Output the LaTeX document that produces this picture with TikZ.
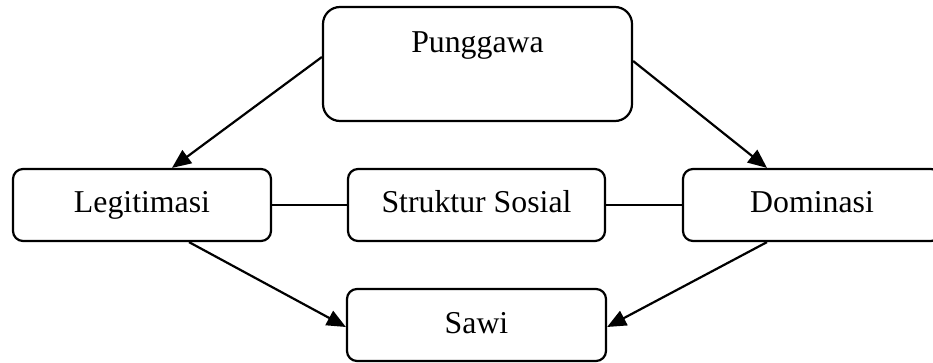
\documentclass[tikz,border=0pt]{standalone}
\usepackage{fontspec}
\setmainfont{Liberation Serif}
\usetikzlibrary{arrows.meta}
\begin{document}
\begin{tikzpicture}[x=1pt,y=-1pt,
  box/.style={draw,line width=2.2pt,rounded corners=10pt,inner sep=0pt,
    font=\fontsize{31.8}{36}\selectfont,text height=22pt,text depth=6pt},
  bigbox/.style={box,rounded corners=17pt,text depth=44pt},
  arr/.style={line width=2.2pt,-{Triangle[length=19pt,width=16pt]}},
  link/.style={line width=2pt}]
\clip (0,0) rectangle (933,363);
\useasboundingbox (0,0) rectangle (933,363);
\node[bigbox,minimum width=309pt,minimum height=114pt] (P) at (477.5,64) {Punggawa};
\node[box,minimum width=258pt,minimum height=72pt] (L) at (142,205) {Legitimasi};
\node[box,minimum width=257pt,minimum height=72pt] (S) at (476.5,205) {Struktur Sosial};
\node[box,minimum width=258pt,minimum height=72pt] (D) at (812,205) {Dominasi};
\node[box,minimum width=259pt,minimum height=72pt] (W) at (476.5,325) {Sawi};
\draw[arr] ([yshift=7pt]P.west) -- ([xshift=30pt]L.north);
\draw[arr] ([yshift=3pt]P.east) -- ([xshift=-45pt]D.north);
\draw[arr] ([xshift=47pt]L.south) -- ([yshift=-2pt]W.west);
\draw[arr] ([xshift=-45pt]D.south) -- ([yshift=-2pt]W.east);
\draw[link] (L.east) -- (S.west);
\draw[link] (S.east) -- (D.west);
\end{tikzpicture}
\end{document}
